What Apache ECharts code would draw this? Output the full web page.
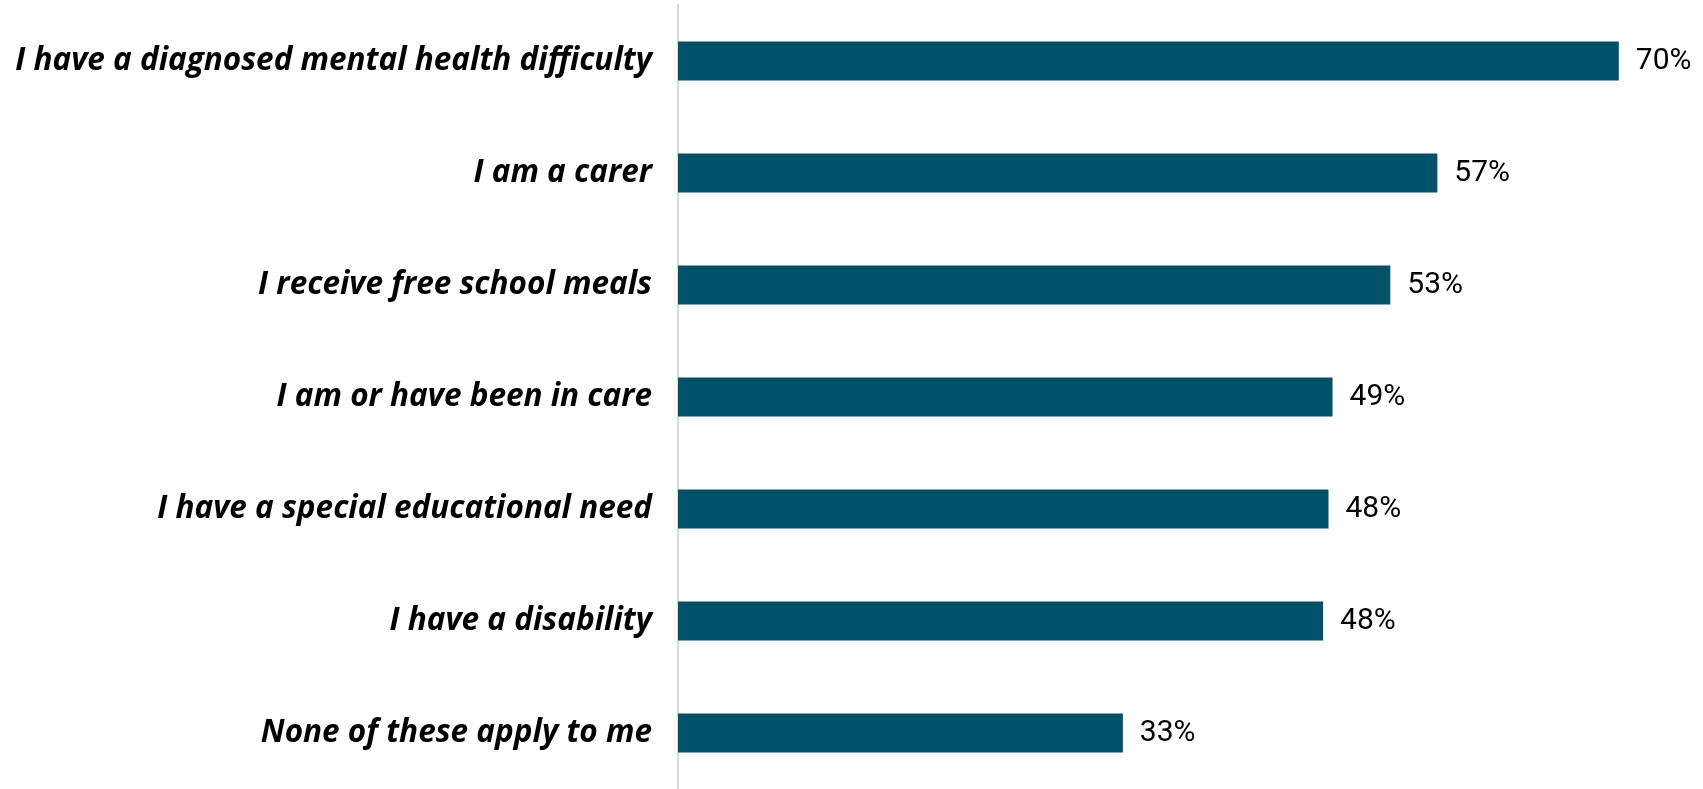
<!DOCTYPE html>
<html>
<head>
<meta charset="utf-8">
<title>chart</title>
<script src="https://cdn.jsdelivr.net/npm/echarts@6/dist/echarts.min.js"></script>
<style>
	html, body { margin: 0; padding: 0; background: #fff; }
	#main { width: 1703px; height: 789px; }
</style>
</head>
<body>
<div id="main"></div>
<script>
// categories, top to bottom
const categories = [
	'I have a diagnosed mental health difficulty',
	'I am a carer',
	'I receive free school meals',
	'I am or have been in care',
	'I have a special educational need',
	'I have a disability',
	'None of these apply to me'
];
// percentages
const values = [70, 56.5, 53.0, 48.7, 48.4, 48.0, 33.1];

let chart = echarts.init(document.getElementById('main'));
const option = {
	animation: false,
	grid: {
		left: 678,
		top: 5,
		width: 1008,
		height: 788
	},
	xAxis: {
		type: 'value',
		min: 0,
		max: 75,
		show: false
	},
	yAxis: {
		type: 'category',
		data: categories,
		inverse: true,
		axisTick: { show: false },
		axisLine: {
			lineStyle: { color: '#d9d9d9', width: 2 }
		},
		axisLabel: {
			margin: 26,
			color: '#000',
			fontSize: 31.5,
			fontStyle: 'italic',
			fontWeight: 'bold',
			fontFamily: '"Open Sans", "Noto Sans", sans-serif'
		}
	},
	series: [
		{
			type: 'bar',
			data: values,
			barWidth: 39,
			itemStyle: { color: '#02516b' },
			label: {
				show: true,
				position: 'right',
				distance: 17,
				color: '#000',
				fontSize: 30,
				fontFamily: 'Roboto, sans-serif',
				formatter: p => Math.round(p.value) + '%'
			}
		}
	]
};
chart.setOption(option);
window.addEventListener('resize', () => {
	chart.resize();
});
</script>
</body>
</html>
